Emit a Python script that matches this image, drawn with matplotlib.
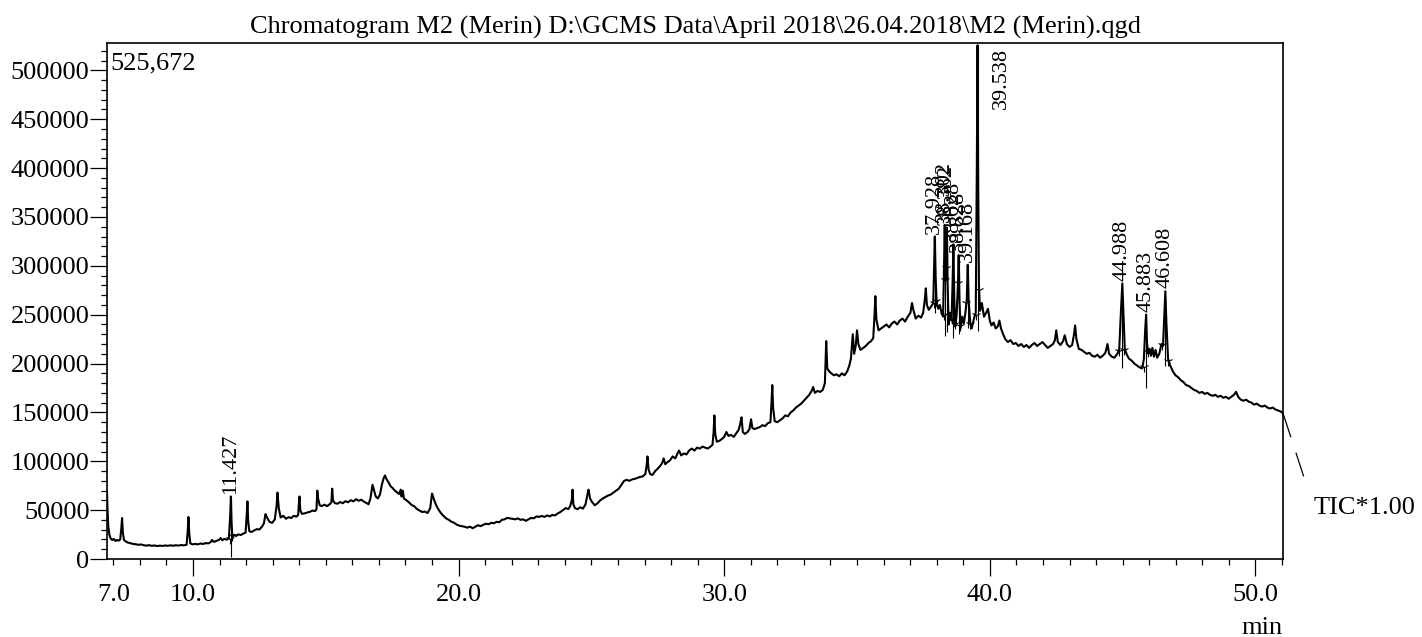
import numpy as np
import matplotlib.pyplot as plt
from matplotlib.ticker import MultipleLocator, FixedLocator

plt.rcParams['font.family'] = ['Liberation Serif', 'DejaVu Serif']

title = r"Chromatogram M2 (Merin) D:\GCMS Data\April 2018\26.04.2018\M2 (Merin).qgd"
max_label = "525,672"
trace_name = "TIC*1.00"

# trace: (retention time [min], intensity [x1000 counts])
seg_early = [
    (6.76, 70), (6.78, 52), (6.81, 34), (6.85, 25), (6.90, 21), (6.96, 19.5), (7.02, 20.5),
    (7.08, 18.5), (7.14, 19.5), (7.20, 18.8), (7.26, 20), (7.30, 31), (7.33, 42), (7.36, 27),
    (7.40, 19.5), (7.47, 18), (7.55, 16.8), (7.65, 16.2), (7.75, 15.4), (7.85, 15.1), (7.95, 14.6),
    (8.05, 14.9), (8.15, 14.1), (8.25, 13.7), (8.35, 14.2), (8.45, 13.5), (8.55, 13.9), (8.65, 13.3),
    (8.75, 13.7), (8.85, 13.4), (8.95, 13.9), (9.05, 13.5), (9.15, 14), (9.25, 13.6), (9.35, 14.1),
    (9.45, 13.8), (9.55, 14.3), (9.65, 14), (9.76, 14.6), (9.80, 28), (9.83, 43), (9.86, 26),
    (9.90, 16), (9.98, 15), (10.08, 15.5), (10.18, 15), (10.28, 15.9), (10.38, 15.4), (10.48, 16.3),
    (10.58, 16), (10.66, 17.2), (10.72, 19.5), (10.78, 17.5), (10.88, 18.6), (10.98, 19.6),
    (11.04, 21.5), (11.10, 19.2), (11.18, 20.6), (11.27, 19.8), (11.35, 21.2), (11.40, 44),
    (11.427, 64), (11.45, 39), (11.48, 23), (11.55, 24.8), (11.62, 23.5), (11.70, 25.2),
    (11.80, 24.6), (11.90, 26.1), (11.98, 27), (12.02, 44), (12.05, 59), (12.08, 38), (12.12, 28.5),
    (12.20, 27.6), (12.30, 29.2), (12.40, 30.6), (12.50, 30.2), (12.60, 33.2), (12.67, 36.5),
    (12.73, 46), (12.78, 43), (12.88, 38), (12.98, 37), (13.08, 40.5), (13.15, 55), (13.18, 68),
    (13.23, 52), (13.30, 42.5), (13.40, 44.2), (13.50, 41.2), (13.60, 42.8), (13.70, 42),
    (13.80, 44.2), (13.90, 43.4), (13.96, 45.2), (13.99, 58), (14.01, 64), (14.04, 50), (14.10, 46.2),
    (14.20, 46.7), (14.30, 47.6), (14.40, 48.3), (14.50, 49.6), (14.60, 49.1), (14.65, 51),
    (14.68, 70), (14.71, 62), (14.77, 55), (14.85, 54.2), (14.95, 55.6), (15.05, 54.1), (15.15, 56.2),
    (15.21, 58), (15.24, 72), (15.27, 60), (15.34, 57.2), (15.44, 56.6), (15.54, 58.3), (15.64, 57.1),
    (15.74, 59.2), (15.84, 58.1), (15.94, 60.2), (16.04, 59), (16.14, 61.2), (16.24, 59.6),
    (16.34, 60.7), (16.44, 58.6), (16.54, 57.2), (16.61, 56), (16.68, 62), (16.76, 76), (16.80, 72),
    (16.88, 64), (16.96, 62), (17.04, 66), (17.11, 76), (17.18, 83), (17.23, 85.5), (17.28, 82),
    (17.36, 78.5), (17.44, 74.5), (17.52, 72.5), (17.60, 70), (17.68, 68.2), (17.76, 66.5),
    (17.82, 71), (17.85, 64), (17.90, 70), (17.94, 62), (18.03, 60.2), (18.13, 58), (18.23, 55.3),
    (18.33, 54), (18.43, 51.2), (18.53, 49.6), (18.63, 48.1), (18.73, 48.6), (18.83, 47), (18.93, 52),
    (19.00, 67), (19.06, 62), (19.14, 56), (19.23, 51.2), (19.33, 47.1), (19.43, 44.2), (19.53, 41.6),
    (19.63, 40.1), (19.73, 38.2), (19.83, 37.1), (19.93, 35.2),
]
seg_mid = [
    (20.03, 34.1), (20.13, 33.6), (20.23, 33), (20.33, 32.1), (20.43, 33.1), (20.53, 31.5),
    (20.63, 33.1), (20.73, 34.6), (20.83, 33.6), (20.93, 35.1), (21.03, 36.1), (21.13, 35.6),
    (21.23, 37.1), (21.33, 36.6), (21.43, 38.1), (21.53, 37.6), (21.63, 40.1), (21.73, 40.6),
    (21.83, 42.1), (21.93, 41.6), (22.03, 41.1), (22.13, 40.6), (22.23, 41.6), (22.33, 40.1),
    (22.43, 40.6), (22.53, 39.1), (22.63, 40.6), (22.73, 42.1), (22.83, 41.6), (22.93, 43.6),
    (23.03, 43.1), (23.13, 44.1), (23.23, 43.1), (23.33, 44.6), (23.43, 43.6), (23.53, 45.1),
    (23.63, 44.6), (23.73, 46.6), (23.83, 48.1), (23.93, 50.1), (24.03, 52.1), (24.13, 51.1),
    (24.20, 54), (24.26, 60), (24.29, 71), (24.32, 56), (24.38, 52), (24.48, 51), (24.58, 53),
    (24.68, 51.5), (24.78, 56), (24.85, 66), (24.89, 71), (24.95, 62), (25.03, 58), (25.13, 55),
    (25.23, 57), (25.33, 60), (25.43, 62), (25.53, 63.5), (25.63, 65), (25.73, 66), (25.83, 68),
    (25.93, 70), (26.03, 72), (26.13, 76), (26.23, 80), (26.33, 81), (26.43, 80), (26.53, 81.5),
    (26.63, 82), (26.73, 83), (26.83, 84), (26.93, 84.5), (27.03, 87), (27.08, 96), (27.11, 105),
    (27.15, 92), (27.21, 87), (27.30, 86), (27.40, 90), (27.48, 92), (27.58, 95), (27.66, 98),
    (27.72, 103), (27.78, 97), (27.86, 99), (27.96, 101), (28.06, 105), (28.16, 103), (28.24, 108),
    (28.30, 111), (28.38, 106), (28.48, 108), (28.58, 107), (28.68, 111), (28.78, 113), (28.88, 111),
    (28.98, 114), (29.08, 113), (29.18, 115), (29.28, 114), (29.38, 113), (29.48, 115), (29.56, 117),
    (29.60, 130), (29.63, 147), (29.66, 128), (29.72, 120), (29.82, 121), (29.92, 123), (30.00, 125),
    (30.08, 130), (30.16, 126), (30.26, 127), (30.36, 125), (30.46, 129), (30.54, 132), (30.60, 138),
    (30.65, 145), (30.70, 130), (30.78, 128), (30.88, 130), (30.95, 133), (31.01, 143), (31.06, 134),
    (31.14, 133), (31.24, 134), (31.34, 135), (31.44, 137), (31.54, 136), (31.64, 139), (31.74, 140),
    (31.78, 160), (31.81, 178), (31.84, 155), (31.90, 141), (32.00, 140), (32.10, 142), (32.20, 144),
    (32.30, 147), (32.40, 146), (32.50, 150), (32.60, 152), (32.70, 155), (32.80, 157), (32.90, 159),
    (33.00, 162), (33.10, 165), (33.20, 168), (33.29, 172), (33.35, 176), (33.41, 170), (33.51, 172),
    (33.61, 171), (33.71, 173), (33.79, 180), (33.84, 223), (33.88, 195), (33.95, 192), (34.03, 190),
    (34.13, 188), (34.23, 189), (34.33, 187), (34.43, 190), (34.53, 188), (34.63, 192), (34.71, 198),
    (34.77, 205), (34.84, 230), (34.89, 210), (34.95, 218), (35.00, 234), (35.05, 220), (35.13, 214),
    (35.23, 216), (35.33, 218), (35.43, 221), (35.53, 223), (35.61, 226), (35.66, 250), (35.69, 269),
    (35.73, 245), (35.81, 234), (35.91, 236), (36.01, 238), (36.11, 240), (36.21, 237), (36.31, 241),
    (36.41, 243), (36.51, 240), (36.61, 244), (36.71, 246), (36.81, 243), (36.91, 248), (37.01, 252),
    (37.07, 262), (37.12, 255), (37.21, 246), (37.31, 249), (37.41, 247), (37.49, 252),
]
seg_cluster = [
    (37.55, 265), (37.59, 277), (37.63, 260), (37.70, 255), (37.78, 258), (37.87, 262), (37.90, 295),
    (37.928, 330), (37.96, 288), (38.00, 262), (38.06, 256), (38.12, 260), (38.18, 252), (38.24, 248),
    (38.27, 290), (38.302, 342), (38.33, 285), (38.355, 300), (38.382, 339), (38.41, 282), (38.45, 240),
    (38.50, 252), (38.56, 244), (38.60, 285), (38.628, 322), (38.66, 268), (38.70, 238), (38.75, 250),
    (38.80, 282), (38.828, 311), (38.86, 262), (38.90, 236), (38.96, 248), (39.02, 241), (39.08, 252),
    (39.13, 265), (39.168, 301), (39.20, 266), (39.26, 242), (39.32, 236), (39.40, 246), (39.47, 252),
    (39.51, 400), (39.538, 525.672), (39.56, 390), (39.59, 280), (39.63, 254),
]
seg_late = [
    (39.70, 262), (39.78, 248), (39.86, 252), (39.93, 256), (40.00, 244), (40.06, 239), (40.14, 242),
    (40.22, 236), (40.30, 238), (40.36, 244), (40.42, 236), (40.50, 230), (40.58, 225), (40.68, 222),
    (40.78, 224), (40.88, 220), (40.98, 221), (41.08, 218), (41.18, 220), (41.28, 217), (41.38, 219),
    (41.48, 216), (41.58, 219), (41.68, 221), (41.78, 218), (41.88, 220), (41.98, 222), (42.08, 219),
    (42.18, 216), (42.28, 218), (42.38, 220), (42.45, 224), (42.50, 234), (42.56, 222), (42.66, 219),
    (42.76, 223), (42.82, 229), (42.90, 220), (43.00, 217), (43.10, 219), (43.17, 230), (43.21, 239),
    (43.26, 225), (43.35, 215), (43.45, 214), (43.55, 212), (43.65, 210), (43.75, 211), (43.85, 208),
    (43.95, 207), (44.05, 209), (44.15, 206), (44.25, 208), (44.35, 211), (44.43, 220), (44.49, 210),
    (44.59, 207), (44.69, 206), (44.80, 210), (44.87, 214), (44.93, 250), (44.988, 282), (45.03, 250),
    (45.08, 215), (45.16, 209), (45.24, 205), (45.34, 203), (45.44, 200), (45.54, 198), (45.64, 196),
    (45.74, 195), (45.80, 205), (45.85, 235), (45.883, 250), (45.92, 220), (45.97, 210), (46.02, 215),
    (46.07, 208), (46.12, 216), (46.18, 207), (46.24, 214), (46.30, 206), (46.38, 210), (46.46, 220),
    (46.52, 218), (46.57, 250), (46.608, 274), (46.65, 240), (46.71, 205), (46.79, 198), (46.89, 192),
    (46.99, 188), (47.09, 186), (47.19, 183), (47.29, 181), (47.39, 178), (47.49, 177), (47.59, 175),
    (47.69, 173), (47.79, 172), (47.89, 170), (47.99, 171), (48.09, 169), (48.19, 170), (48.29, 168),
    (48.39, 167), (48.49, 168), (48.59, 166), (48.69, 167), (48.79, 165), (48.89, 166), (48.99, 164),
    (49.09, 166), (49.19, 168), (49.27, 171), (49.35, 166), (49.45, 163), (49.55, 162), (49.65, 163),
    (49.75, 161), (49.85, 160), (49.95, 158), (50.05, 159), (50.15, 157), (50.25, 156), (50.35, 157),
    (50.45, 155), (50.55, 154), (50.65, 155), (50.75, 153), (50.85, 152), (50.95, 151), (51.04, 149),
]

# labelled peaks
peak_labels = ["11.427", "37.928", "38.302", "38.382", "38.628", "38.828", "39.168",
               "39.538", "44.988", "45.883", "46.608"]
peak_rt = [11.427, 37.928, 38.302, 38.382, 38.628, 38.828, 39.168, 39.538, 44.988, 45.883, 46.608]
peak_top_k = [64, 330, 342, 339, 322, 311, 301, 525.672, 282, 250, 274]
mark_low_k = [2, 252, 228, 232, 226, 230, 236, 233, 195, 175, 197]
start_rt = [11.39, 37.89, 38.26, 38.35, 38.59, 38.79, 39.12, 39.49, 44.86, 45.79, 46.50]
start_k = [20, 262, 250, 298, 246, 282, 262, 250, 213, 196, 219]
end_rt = [11.47, 37.99, 38.33, 38.43, 38.68, 38.88, 39.24, 39.60, 45.07, 45.96, 46.72]
end_k = [24, 264, 285, 250, 240, 238, 240, 275, 214, 212, 203]

pts = np.array(seg_early + seg_mid + seg_cluster + seg_late)
rt = pts[:, 0]
tic = pts[:, 1] * 1000

fig = plt.figure(figsize=(14.22, 6.37), dpi=100)
ax = fig.add_axes([0.0752, 0.1224, 0.8271, 0.8101])

ax.plot(rt, tic, color='black', lw=1.5)

# peak marker lines and start/end marks
ax.vlines(peak_rt, np.array(mark_low_k) * 1000, np.array(peak_top_k) * 1000, color='black', lw=0.8)
ax.plot(start_rt, np.array(start_k) * 1000, ls='none', marker='1', ms=7, mew=0.8, color='black')
ax.plot(end_rt, np.array(end_k) * 1000, ls='none', marker='1', ms=7, mew=0.8, color='black')

for lab, t, h in zip(peak_labels, peak_rt, peak_top_k):
    if lab == "39.538":
        # top of peak is off scale, label goes to its right
        ax.text(t + 0.91, 523000, lab, rotation=90, ha='center', va='top', fontsize=16)
    else:
        ax.annotate(lab, (t, h * 1000), xytext=(0, 2), textcoords='offset points',
                    rotation=90, ha='center', va='bottom', fontsize=16)

ax.text(0.003, 0.982, max_label, transform=ax.transAxes, ha='left', va='top', fontsize=19)

# TIC tag outside the frame
ax.plot([51.04, 51.96], [149000, 72600], color='black', lw=0.9, ls=(0, (20, 13)), clip_on=False)
ax.text(52.2, 52000, trace_name, ha='left', va='center', fontsize=19, clip_on=False)

ax.set_xlim(6.76, 51.04)
ax.set_ylim(0, 528000)
ax.xaxis.set_major_locator(FixedLocator([7, 10, 20, 30, 40, 50]))
ax.xaxis.set_minor_locator(MultipleLocator(1))
ax.xaxis.set_major_formatter(lambda v, p: f"{v:.1f}")
ax.yaxis.set_major_locator(MultipleLocator(50000))
ax.yaxis.set_minor_locator(MultipleLocator(10000))
ax.yaxis.set_major_formatter(lambda v, p: f"{v:.0f}")
ax.tick_params(which='major', length=12, width=0.9, labelsize=19, direction='out')
ax.tick_params(which='minor', length=4.5, width=0.9, direction='out')
ax.tick_params(axis='y', pad=0.5)
ax.tick_params(axis='x', pad=6)
ax.xaxis.get_major_ticks()[0].tick1line.set_markersize(4.5)

for s in ax.spines.values():
    s.set_linewidth(1.2)

ax.set_xlabel("min", fontsize=19)
ax.xaxis.set_label_coords(0.982, -0.112)
ax.set_title(title, fontsize=19, pad=6.5)

fig.savefig("out.png", dpi=100)
